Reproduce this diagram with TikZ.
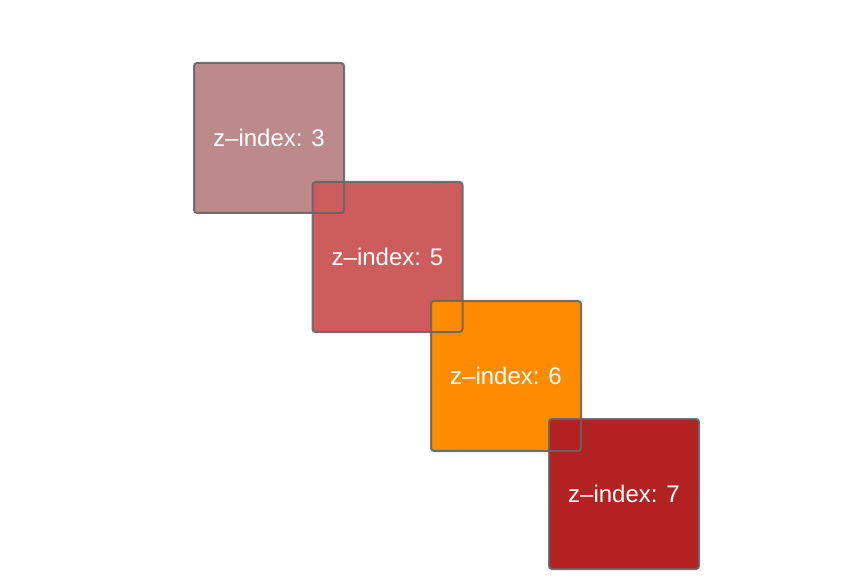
\documentclass[tikz,border=0pt]{standalone}
\usepackage{fontspec}
\setmainfont{Liberation Sans}
\definecolor{c3}{HTML}{BC8A8A}
\definecolor{c5}{HTML}{CD5C5C}
\definecolor{c6}{HTML}{FF8C00}
\definecolor{c7}{HTML}{B22222}
\definecolor{bord}{HTML}{666666}
\begin{document}
\begin{tikzpicture}[x=1pt,y=-1pt,
  zbox/.style={minimum width=150pt,minimum height=150pt,inner sep=0pt,outer sep=0pt,
    rounded corners=3pt,text=white,font=\fontsize{24}{27}\selectfont},
  zborder/.style={draw=bord,draw opacity=0.9,line width=2pt,rounded corners=3pt}]
\useasboundingbox (0,0) rectangle (860,588);
\fill[white] (0,0) rectangle (860,588);
\node[zbox,fill=c3] (b3) at (269,138) {z\textendash index: 3};
\node[zbox,fill=c5] (b5) at (387.5,257) {z\textendash index: 5};
\node[zbox,fill=c6] (b6) at (506,376) {z\textendash index: 6};
\node[zbox,fill=c7] (b7) at (624,494) {z\textendash index: 7};
\foreach \n in {b3,b5,b6,b7}
  \draw[zborder] (\n.north west) rectangle (\n.south east);
\end{tikzpicture}
\end{document}
